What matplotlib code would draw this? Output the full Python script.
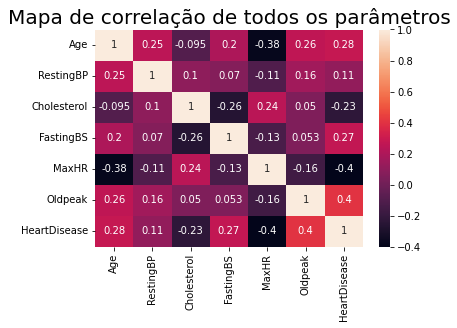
import matplotlib
matplotlib.use("Agg")
import matplotlib.pyplot as plt
import seaborn as sns
import numpy as np
import pandas as pd

labels = ["Age", "RestingBP", "Cholesterol", "FastingBS", "MaxHR", "Oldpeak", "HeartDisease"]
age = [1, 0.25, -0.095, 0.2, -0.38, 0.26, 0.28]
restingbp = [0.25, 1, 0.1, 0.07, -0.11, 0.16, 0.11]
cholesterol = [-0.095, 0.1, 1, -0.26, 0.24, 0.05, -0.23]
fastingbs = [0.2, 0.07, -0.26, 1, -0.13, 0.053, 0.27]
maxhr = [-0.38, -0.11, 0.24, -0.13, 1, -0.16, -0.4]
oldpeak = [0.26, 0.16, 0.05, 0.053, -0.16, 1, 0.4]
heartdisease = [0.28, 0.11, -0.23, 0.27, -0.4, 0.4, 1]

corr = pd.DataFrame([age, restingbp, cholesterol, fastingbs, maxhr, oldpeak, heartdisease],
                    index=labels, columns=labels)

W, H = 457, 328
top, bottom = 29.5, 247
fig = plt.figure(figsize=(W / 72, H / 72), dpi=72)
ax = fig.add_axes([95 / W, 1 - bottom / H, (363 - 95) / W, (bottom - top) / H])
cax = fig.add_axes([379 / W, 1 - bottom / H, (390 - 379) / W, (bottom - top) / H])
sns.heatmap(corr, annot=True, ax=ax, cbar_ax=cax)
ax.set_title("Mapa de correlação de todos os parâmetros", fontsize=20)
fig.savefig("out.png", dpi=72)
